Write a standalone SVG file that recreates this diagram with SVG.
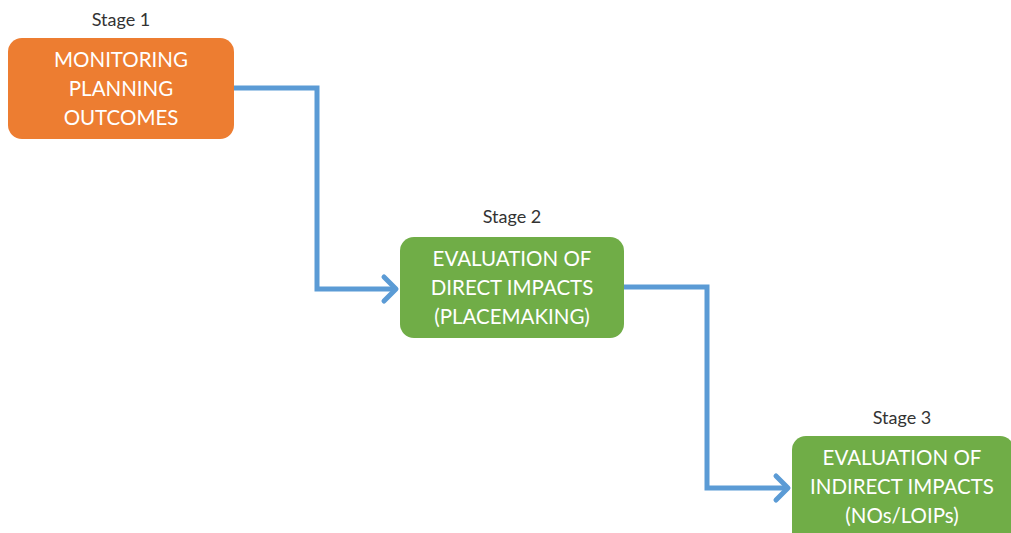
<svg xmlns="http://www.w3.org/2000/svg" width="1011" height="533" viewBox="0 0 1011 533">
<defs>
<style>
.stage{font-family:Lato,"Open Sans",sans-serif;font-size:18px;fill:#333;text-anchor:middle}
.lbl{font-family:Lato,"Open Sans",sans-serif;font-size:20.5px;fill:#fff;text-anchor:middle}
.conn{fill:none;stroke:#5B9BD5;stroke-width:5;stroke-linejoin:miter}
.head{fill:none;stroke:#5B9BD5;stroke-width:5;stroke-linecap:round;stroke-linejoin:round}
</style>
</defs>
<rect width="1011" height="533" fill="#fff"/>
<g id="connectors">
<path class="conn" d="M234 88 H317 V289 H396"/>
<path class="head" d="M384 277 L396 289 L384 301"/>
<path class="conn" d="M624 287 H707 V488 H788"/>
<path class="head" d="M776 476 L788 488 L776 500"/>
</g>
<g id="stage1">
<text class="stage" x="121" y="26">Stage 1</text>
<rect x="8" y="38" width="226" height="101" rx="14" fill="#ED7D31"/>
<text class="lbl" x="121" y="67">MONITORING</text>
<text class="lbl" x="121" y="96">PLANNING</text>
<text class="lbl" x="121" y="125">OUTCOMES</text>
</g>
<g id="stage2">
<text class="stage" x="512" y="223">Stage 2</text>
<rect x="400" y="237" width="224" height="101" rx="14" fill="#70AD47"/>
<text class="lbl" x="512" y="266">EVALUATION OF</text>
<text class="lbl" x="512" y="295">DIRECT IMPACTS</text>
<text class="lbl" x="512" y="324">(PLACEMAKING)</text>
</g>
<g id="stage3">
<text class="stage" x="902" y="424">Stage 3</text>
<rect x="792" y="436" width="222" height="110" rx="14" fill="#70AD47"/>
<text class="lbl" x="902" y="465">EVALUATION OF</text>
<text class="lbl" x="902" y="494">INDIRECT IMPACTS</text>
<text class="lbl" x="902" y="523">(NOs/LOIPs)</text>
</g>
</svg>
